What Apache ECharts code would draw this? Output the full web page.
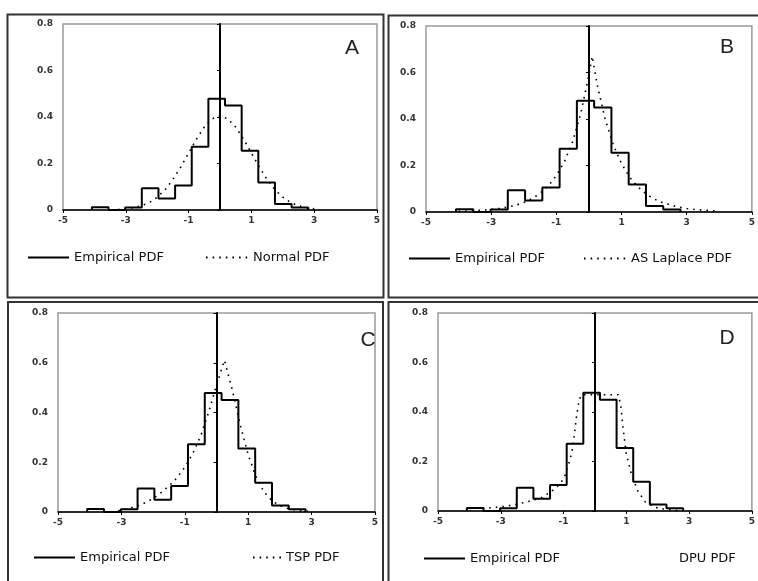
<!DOCTYPE html>
<html>
<head>
<meta charset="utf-8">
<script src="https://cdn.jsdelivr.net/npm/echarts@6/dist/echarts.min.js"></script>
<style>
html,body{margin:0;padding:0;background:#fff;}
#chart{width:758px;height:581px;}
</style>
</head>
<body>
<div id="chart"></div>
<script>
// ---------- data ----------
const xTickValues = [-5, -3, -1, 1, 3, 5];
const panelLetters = ['A', 'B', 'C', 'D'];
const fitNames = ['Normal PDF', 'AS Laplace PDF', 'TSP PDF', 'DPU PDF'];

// empirical histogram: bin edges and heights
const binEdges = [-4.08, -3.55, -3.02, -2.49, -1.96, -1.43, -0.90, -0.37, 0.16, 0.69, 1.22, 1.75, 2.28, 2.81];
const empirical = [0.012, 0, 0.011, 0.094, 0.049, 0.105, 0.272, 0.478, 0.450, 0.255, 0.118, 0.026, 0.011];

// Normal PDF
const normalX = [-3.25, -3.0, -2.75, -2.5, -2.25, -2.0, -1.75, -1.5, -1.25, -1.0, -0.75, -0.5, -0.25, 0, 0.25, 0.5, 0.75, 1.0, 1.25, 1.5, 1.75, 2.0, 2.25, 2.5, 2.75, 3.0];
const normalY = [0.002, 0.005, 0.010, 0.018, 0.032, 0.055, 0.087, 0.131, 0.185, 0.245, 0.305, 0.357, 0.392, 0.405, 0.392, 0.357, 0.305, 0.245, 0.185, 0.131, 0.087, 0.055, 0.032, 0.018, 0.010, 0.005];

// AS Laplace PDF
const laplaceX = [-4.0, -3.75, -3.5, -3.25, -3.0, -2.75, -2.5, -2.25, -2.0, -1.75, -1.5, -1.25, -1.0, -0.75, -0.5, -0.25, 0, 0.1, 0.25, 0.5, 0.75, 1.0, 1.25, 1.5, 1.75, 2.0, 2.25, 2.5, 2.75, 3.0, 3.25, 3.5, 3.75, 4.0];
const laplaceY = [0.003, 0.004, 0.006, 0.008, 0.011, 0.015, 0.021, 0.029, 0.041, 0.057, 0.080, 0.112, 0.156, 0.217, 0.303, 0.424, 0.590, 0.670, 0.550, 0.398, 0.288, 0.208, 0.150, 0.108, 0.078, 0.056, 0.041, 0.030, 0.021, 0.015, 0.011, 0.008, 0.006, 0.004];

// TSP PDF
const tspX = [-3.1, -2.75, -2.5, -2.25, -2.0, -1.75, -1.5, -1.25, -1.0, -0.75, -0.5, -0.25, 0, 0.25, 0.5, 0.75, 1.0, 1.25, 1.5, 1.75, 2.0, 2.25, 2.5, 2.75, 3.0];
const tspY = [0.005, 0.015, 0.024, 0.037, 0.054, 0.078, 0.105, 0.137, 0.180, 0.235, 0.305, 0.400, 0.510, 0.610, 0.490, 0.350, 0.230, 0.140, 0.080, 0.045, 0.025, 0.014, 0.008, 0.004, 0.001];

// DPU PDF
const dpuX = [-4.0, -3.6, -3.2, -2.8, -2.4, -2.0, -1.7, -1.4, -1.1, -0.95, -0.8, -0.7, -0.6, -0.5, -0.42, 0.0, 0.4, 0.74, 0.82, 0.9, 1.0, 1.15, 1.35, 1.6, 1.9, 2.2, 2.5, 2.8];
const dpuY = [0.010, 0.012, 0.014, 0.020, 0.030, 0.042, 0.054, 0.078, 0.110, 0.145, 0.205, 0.260, 0.370, 0.450, 0.470, 0.470, 0.470, 0.470, 0.430, 0.330, 0.230, 0.155, 0.085, 0.037, 0.015, 0.008, 0.004, 0.0];

const fitX = [normalX, laplaceX, tspX, dpuX];
const fitY = [normalY, laplaceY, tspY, dpuY];

// ---------- layout ----------
const grids = [
  {left: 63, top: 24, width: 314, height: 186},
  {left: 426, top: 26, width: 331, height: 186},
  {left: 58, top: 313, width: 317, height: 199},
  {left: 438, top: 313, width: 319, height: 198}
];
const borders = [
  {x: 7.5, y: 14.5, width: 376, height: 283},
  {x: 388.5, y: 15.5, width: 380, height: 282},
  {x: 8, y: 302, width: 375, height: 290},
  {x: 388.5, y: 302, width: 380, height: 290}
];
const letterPos = [[352, 48], [727, 47], [368, 340], [727, 338]];
const legendPos = [
  {emp: [27, 251], fit: [205, 251], fitW: 42},
  {emp: [408, 252], fit: [583, 252], fitW: 42},
  {emp: [33, 551], fit: [252, 551], fitW: 28},
  {emp: [423, 552], fit: [643, 552], fitW: 30}
];

function stepPoints(edges, h) {
  const pts = [[edges[0], 0]];
  for (let i = 0; i < h.length; i++) {
    pts.push([edges[i], h[i]]);
    pts.push([edges[i + 1], h[i]]);
  }
  pts.push([edges[edges.length - 1], 0]);
  return pts;
}

const tickFont = {fontFamily: 'DejaVu Sans', fontSize: 9, fontWeight: 'bold', color: '#333'};
const legendText = {fontFamily: 'DejaVu Sans', fontSize: 13, color: '#111'};

const option = {
  animation: false,
  backgroundColor: '#fff',
  grid: [], xAxis: [], yAxis: [], series: [], legend: [], graphic: []
};

for (let p = 0; p < 4; p++) {
  option.grid.push(Object.assign({show: true, borderColor: '#9a9a9a', borderWidth: 1.5, backgroundColor: 'transparent', containLabel: false}, grids[p]));
  option.xAxis.push({
    type: 'value', gridIndex: p, min: -5, max: 5,
    axisLine: {show: true, lineStyle: {color: '#000', width: 1.5}},
    axisTick: {show: true, length: 3, customValues: xTickValues, lineStyle: {color: '#000'}},
    axisLabel: Object.assign({show: true, margin: 6, customValues: xTickValues}, tickFont),
    splitLine: {show: false}
  });
  // labels axis (left)
  option.yAxis.push({
    type: 'value', gridIndex: p, min: 0, max: 0.8, interval: 0.2, position: 'left',
    axisLine: {show: false, onZero: false},
    axisTick: {show: false},
    axisLabel: Object.assign({show: true, margin: 10}, tickFont),
    splitLine: {show: false}
  });
  // vertical axis line crossing at x = 0
  option.yAxis.push({
    type: 'value', gridIndex: p, min: 0, max: 0.8, interval: 0.2, position: 'left',
    axisLine: {show: true, onZero: true, lineStyle: {color: '#000', width: 2}},
    axisTick: {show: true, length: 3, lineStyle: {color: '#000'}},
    axisLabel: {show: false},
    splitLine: {show: false}
  });
  option.series.push({
    name: 'Empirical PDF', type: 'line', xAxisIndex: p, yAxisIndex: 2 * p,
    data: stepPoints(binEdges, empirical), symbol: 'none', showSymbol: false,
    lineStyle: {color: '#000', width: 2, type: 'solid'}, itemStyle: {color: '#000'}, z: 3
  });
  option.series.push({
    name: fitNames[p], type: 'line', xAxisIndex: p, yAxisIndex: 2 * p,
    data: fitX[p].map((x, i) => [x, fitY[p][i]]), symbol: 'none', showSymbol: false,
    lineStyle: {color: '#000', width: 1.6, type: [1.6, 5]}, itemStyle: {color: '#000'}, z: 4
  });
  const lp = legendPos[p];
  option.legend.push({
    left: lp.emp[0], top: lp.emp[1], padding: 0, itemWidth: 41, itemHeight: 12, itemGap: 0,
    selectedMode: false, data: ['Empirical PDF'], textStyle: legendText,
    itemStyle: {opacity: 0}
  });
  const fitLegendItem = p === 3
    ? {name: fitNames[p], lineStyle: {opacity: 0}, itemStyle: {opacity: 0}}
    : {name: fitNames[p]};
  option.legend.push({
    left: lp.fit[0], top: lp.fit[1], padding: 0, itemWidth: lp.fitW, itemHeight: 12, itemGap: 0,
    selectedMode: false, data: [fitLegendItem], textStyle: legendText,
    itemStyle: {opacity: 0}
  });
  option.graphic.push({
    type: 'rect', shape: borders[p], silent: true, z: 100,
    style: {fill: 'none', stroke: '#333', lineWidth: 2}
  });
  option.graphic.push({
    type: 'text', x: letterPos[p][0], y: letterPos[p][1], silent: true, z: 100,
    style: {text: panelLetters[p], fill: '#222', font: '21px "Liberation Sans"', align: 'center', verticalAlign: 'middle'}
  });
}

const chart = echarts.init(document.getElementById('chart'), null, {renderer: 'canvas'});
chart.setOption(option);
</script>
</body>
</html>
